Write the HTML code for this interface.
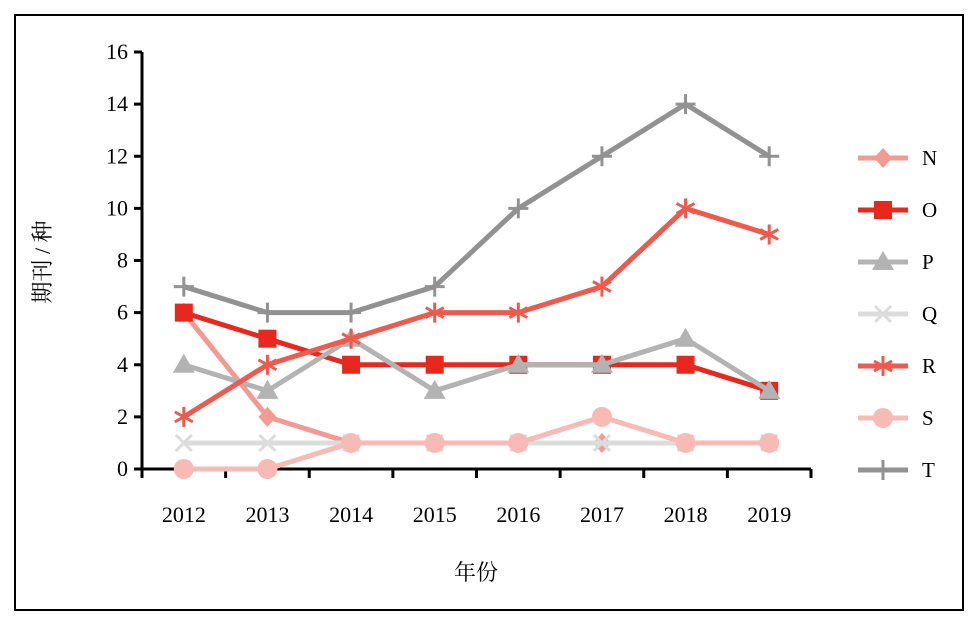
<!DOCTYPE html>
<html><head><meta charset="utf-8"><style>
body{margin:0;background:#fff}
svg, svg text{font-family:"Liberation Serif","Noto Serif CJK SC",serif}
</style></head><body>
<svg id="chart" width="977" height="623" viewBox="0 0 977 623" xmlns="http://www.w3.org/2000/svg" font-family="Liberation Serif, Noto Serif CJK SC, serif">
<rect x="15" y="15" width="948" height="595" fill="#fff" stroke="#000" stroke-width="2"/>
<g id="axes"></g>
<g id="series"></g>
<g id="legend"></g>
<text x="476" y="580" font-size="22" text-anchor="middle">年份</text>
<text transform="translate(50,262) rotate(-90)" font-size="22" text-anchor="middle">期刊 / 种</text>
</svg>
<script>
const categories=["2012","2013","2014","2015","2016","2017","2018","2019"];
const seriesNames=["N","O","P","Q","R","S","T"];
const N=[6,2,1,1,1,1,1,1];
const O=[6,5,4,4,4,4,4,3];
const P=[4,3,5,3,4,4,5,3];
const Q=[1,1,1,1,1,1,1,1];
const R=[2,4,5,6,6,7,10,9];
const S=[0,0,1,1,1,2,1,1];
const T=[7,6,6,7,10,12,14,12];
const yTicks=[0,2,4,6,8,10,12,14,16];
const colors={N:"#f39a92",O:"#e8281c",P:"#b3b3b3",Q:"#dcdcdc",R:"#ef5a4c",S:"#f7bab5",T:"#929292"};
const markers={N:"diamond",O:"square",P:"triangle",Q:"x",R:"star",S:"circle",T:"plus"};
const data={N,O,P,Q,R,S,T};
const FONT="Liberation Serif, Noto Serif CJK SC, serif";
const x0=142,x1=811,y0=469,y16=52;
const band=(x1-x0)/categories.length;
const xs=i=>x0+band*(i+0.5);
const ys=v=>y0-(v/16)*(y0-y16);
const NS="http://www.w3.org/2000/svg";
function mk(tag,attrs,parent){const e=document.createElementNS(NS,tag);for(const k in attrs)e.setAttribute(k,attrs[k]);parent.appendChild(e);return e;}
const axes=document.getElementById('axes');
let a=mk('line',{x1:x0,y1:y16,x2:x0,y2:y0+1,stroke:"#000","stroke-width":3},axes);


a=mk('line',{x1:x0-1,y1:y0,x2:x1,y2:y0,stroke:"#000","stroke-width":3},axes);


yTicks.forEach(v=>{
 const t=mk('line',{x1:x0-8,y1:ys(v),x2:x0,y2:ys(v),stroke:"#000","stroke-width":3},axes);
 
 
 const l=mk('text',{x:x0-14,y:ys(v)+7,"font-size":22,"text-anchor":"end","font-family":FONT},axes);
 l.textContent=v;
 
 
});
for(let i=0;i<=categories.length;i++){
 const t=mk('line',{x1:x0+band*i,y1:y0,x2:x0+band*i,y2:y0+9,stroke:"#000","stroke-width":3},axes);
 
 
}
categories.forEach((c,i)=>{
 const l=mk('text',{x:xs(i),y:522,"font-size":22,"text-anchor":"middle","font-family":FONT},axes);
 l.textContent=c;
 
 
});
function marker(type,cx,cy,col,g){
 let e;
 if(type==="diamond")e=mk('polygon',{points:`${cx},${cy-10} ${cx+9},${cy} ${cx},${cy+10} ${cx-9},${cy}`,fill:col},g);
 else if(type==="square")e=mk('rect',{x:cx-9,y:cy-9,width:18,height:18,fill:col},g);
 else if(type==="triangle")e=mk('polygon',{points:`${cx},${cy-11} ${cx+11},${cy+8} ${cx-11},${cy+8}`,fill:col},g);
 else if(type==="circle")e=mk('circle',{cx,cy,r:10,fill:col},g);
 else if(type==="x")e=mk('path',{d:`M${cx-8},${cy-8}L${cx+8},${cy+8}M${cx+8},${cy-8}L${cx-8},${cy+8}`,stroke:col,"stroke-width":3},g);
 else if(type==="plus")e=mk('path',{d:`M${cx-10},${cy}L${cx+10},${cy}M${cx},${cy-10}L${cx},${cy+10}`,stroke:col,"stroke-width":3},g);
 else if(type==="star")e=mk('path',{d:`M${cx},${cy-10}L${cx},${cy+10}M${cx-9},${cy-5}L${cx+9},${cy+5}M${cx+9},${cy-5}L${cx-9},${cy+5}`,stroke:col,"stroke-width":3},g);
 return e;
}
const sg=document.getElementById('series');
const lg=document.getElementById('legend');
seriesNames.forEach((s,k)=>{
 const g=mk('g',{},sg);
 
 
 const vals=data[s],col=colors[s];
 const p=mk('polyline',{points:vals.map((v,i)=>xs(i)+","+ys(v)).join(" "),fill:"none",stroke:col,"stroke-width":5,"stroke-linejoin":"round"},g);
 
 
 vals.forEach((v,i)=>{
  const m=marker(markers[s],xs(i),ys(v),col,g);
  
  
 });
 const ly=158+k*52;
 const le=mk('g',{},lg);
 
 
 mk('line',{x1:858,y1:ly,x2:908,y2:ly,stroke:col,"stroke-width":5},le);
 marker(markers[s],883,ly,col,le);
 const t=mk('text',{x:922,y:ly+7,"font-size":21,"font-family":FONT},le);
 t.textContent=s;
});
</script>
</body></html>
